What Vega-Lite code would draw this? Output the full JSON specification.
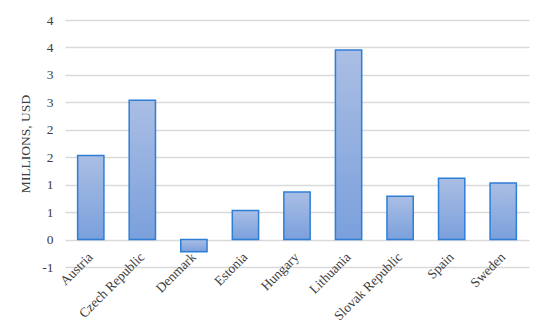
{
  "$schema": "https://vega.github.io/schema/vega-lite/v6.json",
  "autosize": {"type": "none"},
  "padding": {"left": 65, "top": 20, "right": 21, "bottom": 66},
  "width": 464,
  "height": 247,
  "background": "white",
  "data": {
    "values": [
      {"country": "Austria", "value": 1.53},
      {"country": "Czech Republic", "value": 2.54},
      {"country": "Denmark", "value": -0.22},
      {"country": "Estonia", "value": 0.53},
      {"country": "Hungary", "value": 0.865},
      {"country": "Lithuania", "value": 3.455},
      {"country": "Slovak Republic", "value": 0.79},
      {"country": "Spain", "value": 1.115},
      {"country": "Sweden", "value": 1.03}
    ]
  },
  "mark": {
    "type": "bar",
    "color": {
      "gradient": "linear",
      "x1": 0, "y1": 0, "x2": 0, "y2": 1,
      "stops": [
        {"offset": 0, "color": "#aabee4"},
        {"offset": 1, "color": "#7aa0dc"}
      ]
    },
    "stroke": "#2f7ed6",
    "strokeWidth": 1.5
  },
  "encoding": {
    "x": {
      "field": "country",
      "type": "nominal",
      "sort": null,
      "scale": {"paddingInner": 0.49, "paddingOuter": 0.245},
      "axis": {
        "title": null,
        "labelAngle": -45,
        "labelAlign": "right",
        "labelBaseline": "middle",
        "labelPadding": 15,
        "offset": -27.4,
        "domain": false,
        "ticks": false,
        "labelFont": "Liberation Serif",
        "labelFontSize": 13.5,
        "labelColor": "#404040"
      }
    },
    "y": {
      "field": "value",
      "type": "quantitative",
      "scale": {"domain": [-0.5, 4], "nice": false, "zero": false},
      "axis": {
        "title": "MILLIONS, USD",
        "values": [-0.5, 0, 0.5, 1, 1.5, 2, 2.5, 3, 3.5, 4],
        "labelExpr": "datum.value < 0 ? '-' + round(-datum.value) : '' + round(datum.value)",
        "domain": false,
        "ticks": false,
        "labelPadding": 12,
        "titlePadding": 9,
        "labelFont": "Liberation Serif",
        "labelFontSize": 13.5,
        "labelColor": "#404040",
        "titleFont": "Liberation Serif",
        "titleFontSize": 13.5,
        "titleFontWeight": "normal",
        "titleColor": "#404040",
        "grid": true,
        "gridColor": "#d9d9d9",
        "gridWidth": 1.3
      }
    }
  },
  "config": {"view": {"stroke": null}}
}
